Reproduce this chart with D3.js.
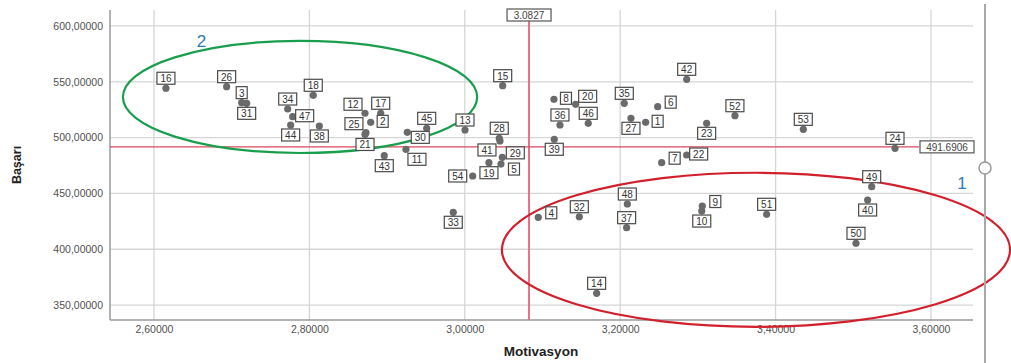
<!DOCTYPE html>
<html><head><meta charset="utf-8">
<script src="https://cdn.jsdelivr.net/npm/d3@7"></script>
<style>body{margin:0;background:#fff;}svg{display:block;font-family:"Liberation Sans",Arial,sans-serif;}</style>
</head><body><svg id="c" width="1011" height="363"></svg>
<script>
const ids   = [1,2,3,4,5,6,7,8,9,10,11,12,13,14,15,16,17,18,19,20,21,22,23,24,25,26,27,28,29,30,31,32,33,34,35,36,37,38,39,40,41,42,43,44,45,46,47,48,49,50,51,52,53,54];
const motivasyon = [3.2328,2.8789,2.7129,3.0946,3.0466,3.2483,3.2534,3.1148,3.3057,3.3050,2.9243,2.8716,3.0003,3.1697,3.0488,2.6154,2.8918,2.8050,3.0311,3.1427,2.8716,3.2856,3.3113,3.5537,2.8728,2.6935,3.2139,3.0444,3.0483,2.9260,2.7193,3.1474,2.9852,2.7721,3.2053,3.1225,3.2083,2.8128,3.1152,3.5185,3.0453,3.2856,2.8964,2.7759,2.9510,3.1589,2.7785,3.2092,3.5237,3.5035,3.3885,3.3477,3.4357,3.0102];
const basari = [513.7,513.7,531.3,428.6,476.3,527.7,477.5,534.3,438.7,434.2,489.5,521.8,506.8,360.5,546.5,544.2,521.8,537.9,477.5,529.8,502.8,484.4,512.8,490.4,504.4,545.6,517.3,499.4,482.3,504.7,530.7,429.1,433.1,525.6,530.7,511.3,419.3,510.4,498.5,444.1,497.0,552.2,483.8,511.3,508.3,512.8,518.7,440.5,456.0,405.3,431.3,519.6,507.4,465.6];
const labelPos = ["r","r","a","ru","rd","ru","ru","r","ru","b","br","al","a","a","a","a","a","a","b","ar","b","r","b","a","al","a","b","a","ru","rd","b","a","b","a","a","a","a","b","b","b","bl","a","b","b","a","a","r","a","a","a","a","a","a","l"];
const xTicks = [2.6,2.8,3.0,3.2,3.4,3.6];
const yTicks = [350,400,450,500,550,600];
const meanX = 3.0827, meanY = 491.6906;
const meanXLabel = "3.0827", meanYLabel = "491.6906";
// group annotations (data units): center x, center y, radius x, radius y, label position
const groups = [
  {name:"2", cx:2.788, cy:536.4, rx:0.228, ry:50.2, color:"#1a9e4e", lx:2.661, ly:581.5},
  {name:"1", cx:3.3748, cy:399.5, rx:0.327, ry:69, color:"#d21f2c", lx:3.640, ly:454}
];

const svg = d3.select("#c");
const x = d3.scaleLinear().domain([2.5434, 3.6541]).range([110, 973]);
const y = d3.scaleLinear().domain([336.6, 614.3]).range([320, 10]);
const fmt = v => d3.format(".5f")(v).replace(".", ",");

// gridlines
svg.append("g").selectAll("line").data(yTicks).join("line")
  .attr("x1",110).attr("x2",973).attr("y1",d=>y(d)).attr("y2",d=>y(d))
  .attr("stroke","#d6d6d6").attr("stroke-width",1.3);
svg.append("g").selectAll("line").data(xTicks).join("line")
  .attr("y1",10).attr("y2",320).attr("x1",d=>x(d)).attr("x2",d=>x(d))
  .attr("stroke","#d6d6d6").attr("stroke-width",1.3);

// axes
const yAxis = d3.axisLeft(y).tickValues(yTicks).tickFormat(fmt).tickSize(0).tickPadding(7);
const gy = svg.append("g").attr("transform","translate(110,0)").call(yAxis);
const xAxis = d3.axisBottom(x).tickValues(xTicks).tickFormat(fmt).tickSize(0).tickPadding(6);
const gx = svg.append("g").attr("transform","translate(0,320)").call(xAxis);
[gx,gy].forEach(g=>{
  g.select(".domain").attr("stroke","#9a9a9a").attr("stroke-width",1.5);
  g.selectAll("text").attr("fill","#505050").attr("font-size","10.5px").attr("font-family","\"Liberation Sans\",Arial,sans-serif");
});
gy.select(".domain").attr("d","M0,10V320");
gx.select(".domain").attr("d","M110,0H973");

// axis titles
svg.append("text").attr("x",541).attr("y",356).attr("text-anchor","middle")
  .attr("font-weight","bold").attr("font-size","13.5px").attr("fill","#222").text("Motivasyon");
svg.append("text").attr("transform","translate(21,165) rotate(-90)").attr("text-anchor","middle")
  .attr("font-weight","bold").attr("font-size","12.5px").attr("fill","#222").text("Başarı");

// reference lines
svg.append("line").attr("x1",x(meanX)).attr("x2",x(meanX)).attr("y1",21).attr("y2",320)
  .attr("stroke","#e8708a").attr("stroke-width",2);
svg.append("line").attr("x1",110).attr("x2",919).attr("y1",y(meanY)).attr("y2",y(meanY))
  .attr("stroke","#d9485e").attr("stroke-width",1.2);
function refLabel(cx, cy, txt, w){
  svg.append("rect").attr("x",cx-w/2).attr("y",cy-6).attr("width",w).attr("height",12)
    .attr("fill","#fff").attr("stroke","#555").attr("stroke-width",1.2);
  svg.append("text").attr("x",cx).attr("y",cy+4).attr("text-anchor","middle")
    .attr("font-size","10px").attr("fill","#444").text(txt);
}
refLabel(x(meanX), 15, meanXLabel, 44);
refLabel(947, y(meanY), meanYLabel, 54);

// group ellipses
groups.forEach(g=>{
  svg.append("ellipse").attr("cx",x(g.cx)).attr("cy",y(g.cy))
    .attr("rx",x(g.cx+g.rx)-x(g.cx)).attr("ry",y(g.cy-g.ry)-y(g.cy))
    .attr("fill","none").attr("stroke",g.color).attr("stroke-width",2.2);
  svg.append("text").attr("x",x(g.lx)).attr("y",y(g.ly)).attr("text-anchor","middle")
    .attr("font-size","17px").attr("fill","#2f78b8").text(g.name);
});

// points
const data = ids.map((id,i)=>({id, mx:motivasyon[i], b:basari[i], p:labelPos[i]}));
svg.append("g").selectAll("circle").data(data).join("circle")
  .attr("cx",d=>x(d.mx)).attr("cy",d=>y(d.b)).attr("r",3.6).attr("fill","#6a6a6a");

// point labels
const off = {a:[0,-10],b:[0,10],r:[12,-1],ru:[13,-4.5],rd:[13,5],l:[-15,0],al:[-12,-9],ar:[12,-8],bl:[-13,9],br:[11,10]};
const lg = svg.append("g").selectAll("g").data(data).join("g")
  .attr("transform",d=>`translate(${x(d.mx)+off[d.p][0]},${y(d.b)+off[d.p][1]})`);
lg.append("rect").attr("x",d=>String(d.id).length>1?-9:-5.5).attr("y",-6)
  .attr("width",d=>String(d.id).length>1?18:11).attr("height",12)
  .attr("fill","#fff").attr("stroke","#4a4a4a").attr("stroke-width",1.2);
lg.append("text").attr("y",4).attr("text-anchor","middle").attr("font-size","10px")
  .attr("fill","#333").text(d=>d.id);

// right-side slider decoration
svg.append("line").attr("x1",985).attr("x2",985).attr("y1",4).attr("y2",363)
  .attr("stroke","#a8a8a8").attr("stroke-width",2);
svg.append("circle").attr("cx",985).attr("cy",168).attr("r",6)
  .attr("fill","#fff").attr("stroke","#999").attr("stroke-width",1.5);
</script></body></html>
